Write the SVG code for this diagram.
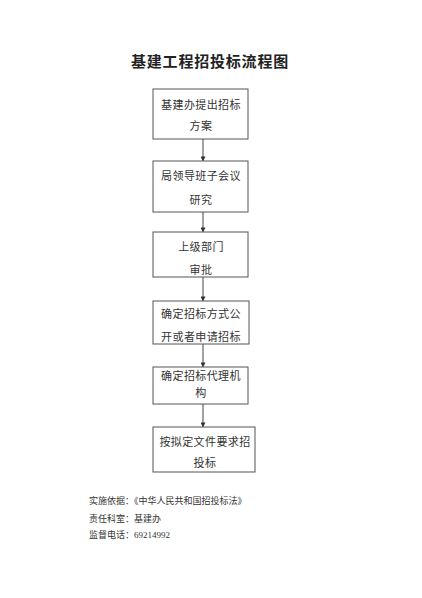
<svg xmlns="http://www.w3.org/2000/svg" width="422" height="598" viewBox="0 0 422 598">
<defs>
<style>
.box{fill:#fff;stroke:#555;stroke-width:1}
.t{font-family:"Liberation Serif","Noto Sans CJK SC",serif;font-size:11px;fill:#333;text-anchor:middle;letter-spacing:0.4px}
.title{font-family:"Liberation Serif","Noto Sans CJK SC",serif;font-size:15px;font-weight:bold;fill:#222;text-anchor:middle;letter-spacing:0.8px}
.f{font-family:"Liberation Serif","Noto Sans CJK SC",serif;font-size:9px;fill:#333}
.c{stroke:#444;stroke-width:1;fill:none;marker-end:url(#ah)}
</style>
<marker id="ah" viewBox="0 0 6 6" refX="5.5" refY="3" markerWidth="5" markerHeight="5" orient="auto"><path d="M0,0 L6,3 L0,6 z" fill="#333"/></marker>
</defs>
<rect width="422" height="598" fill="#fff"/>
<text class="title" x="210" y="67">基建工程招投标流程图</text>
<g id="connectors">
<line class="c" x1="203" y1="139" x2="203" y2="161"/>
<line class="c" x1="203" y1="212" x2="203" y2="232"/>
<line class="c" x1="203" y1="277" x2="203" y2="301"/>
<line class="c" x1="203" y1="344" x2="203" y2="367"/>
<line class="c" x1="203" y1="404" x2="203" y2="427"/>
</g>
<g id="n1"><rect class="box" x="153" y="89" width="95" height="50"/><text class="t" x="201" y="109">基建办提出招标</text><text class="t" x="201" y="130">方案</text></g>
<g id="n2"><rect class="box" x="153" y="161" width="95" height="51"/><text class="t" x="201" y="180">局领导班子会议</text><text class="t" x="201" y="204">研究</text></g>
<g id="n3"><rect class="box" x="153" y="232" width="95" height="45"/><text class="t" x="201" y="251">上级部门</text><text class="t" x="201" y="274">审批</text></g>
<g id="n4"><rect class="box" x="153" y="301" width="96" height="43"/><text class="t" x="201" y="318">确定招标方式公</text><text class="t" x="201" y="341">开或者申请招标</text></g>
<g id="n5"><rect class="box" x="153" y="367" width="95" height="37"/><text class="t" x="201" y="380">确定招标代理机</text><text class="t" x="201" y="397">构</text></g>
<g id="n6"><rect class="box" x="153" y="427" width="102" height="45"/><text class="t" x="205" y="446">按拟定文件要求招</text><text class="t" x="205" y="467">投标</text></g>
<text class="f" x="89" y="504">实施依据：《中华人民共和国招投标法》</text>
<text class="f" x="89" y="522">责任科室：基建办</text>
<text class="f" x="89" y="538">监督电话：69214992</text>
</svg>
